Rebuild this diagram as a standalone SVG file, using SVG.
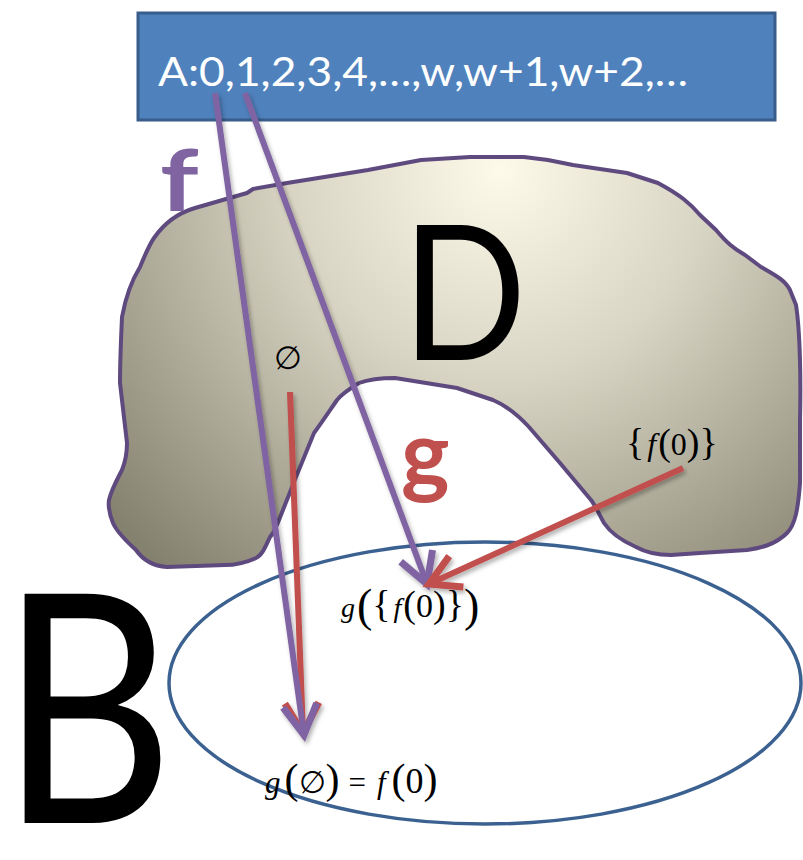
<svg xmlns="http://www.w3.org/2000/svg" width="803" height="860" viewBox="0 0 803 860">
<style>
.sans{font-family:Lato,"Open Sans","Liberation Sans",sans-serif}
.math{font-family:"Liberation Serif","DejaVu Serif",serif;fill:#000}
.it{font-style:italic}
.conn{fill:none;stroke-width:6}
.pur{stroke:#8064a2}
.red{stroke:#c0504d}
</style>
<defs>
<radialGradient id="blobGrad" gradientUnits="userSpaceOnUse" cx="500" cy="170" r="520">
<stop offset="0" stop-color="#fdfae9"/>
<stop offset="0.4" stop-color="#d9d5c4"/>
<stop offset="1" stop-color="#85816f"/>
</radialGradient>
<marker id="arrP" markerUnits="userSpaceOnUse" orient="auto" markerWidth="60" markerHeight="60" refX="0" refY="0" viewBox="-40 -30 60 60" overflow="visible">
<path d="M-30,-17 L0,0 L-30,17" fill="none" stroke="#8064a2" stroke-width="7" stroke-linejoin="miter"/>
</marker>
<marker id="arrR" markerUnits="userSpaceOnUse" orient="auto" markerWidth="60" markerHeight="60" refX="0" refY="0" viewBox="-40 -30 60 60" overflow="visible">
<path d="M-30,-17 L0,0 L-30,17" fill="none" stroke="#c0504d" stroke-width="7" stroke-linejoin="miter"/>
</marker>
<filter id="shadow" x="-20%" y="-20%" width="140%" height="140%">
<feDropShadow dx="2" dy="3" stdDeviation="2" flood-color="#000" flood-opacity="0.3"/>
</filter>
</defs>

<g id="D">
<path d="M154,238 C165,222 178,213 195,208 L247,193 L253,189 L287,183 L368,170 L421,160 L470,157 L524,157 L548,160 L573,165 L627,173 L658,183 C680,195 690,203 700,215 L716,230 C727,243 733,248 745,255 L761,267 C775,275 785,280 790,290 L796,305 C800,330 801,380 800,420 L800,483 C798,510 795,525 787,533 C775,545 760,548 747,550 L700,553 L671,555 C655,555 645,552 636,547 C620,540 610,532 604,523 C598,512 595,505 591,500 L560,463 L529,427 C515,412 505,405 493,400 L457,388 L395,378 C378,378 367,380 359,383 C349,389 342,394 337,400 C326,416 320,425 314,433 L296,477 L279,520 C275,530 272,535 270,537 C265,548 262,555 256,558 C245,563 235,565 225,565 L167,567 C152,566 143,560 136,550 C125,540 117,532 113,523 C109,513 108,507 109,500 C112,488 118,478 122,470 C126,460 127,452 127,443 L120,383 C120,360 121,340 122,317 C126,295 132,280 140,267 C145,255 149,245 154,238 Z" fill="url(#blobGrad)" stroke="#5e4a7e" stroke-width="4" stroke-linejoin="round"/>
<text class="sans" transform="translate(402,360) scale(0.87,1)" x="0" y="0" font-size="188" fill="#000">D</text>
<text class="math" x="274" y="369" font-size="32">∅</text>
<text class="math" x="626" y="455" font-size="32"><tspan font-size="38">{</tspan><tspan class="it" dx="3">f</tspan><tspan font-size="38" dx="2">(</tspan>0<tspan font-size="38">)</tspan><tspan font-size="38">}</tspan></text>
</g>

<g id="B">
<ellipse cx="485" cy="683" rx="316" ry="141" fill="#fff" stroke="#3b6191" stroke-width="3.5"/>
<text class="sans" transform="translate(0,823) scale(0.84,1)" x="0" y="0" font-size="320" fill="#000">B</text>
<text class="math" x="341" y="617" font-size="28"><tspan class="it">g</tspan><tspan font-size="46" dx="2" dy="4">(</tspan><tspan font-size="38" dy="-4">{</tspan><tspan class="it" dx="3">f</tspan><tspan font-size="38" dx="2">(</tspan><tspan font-size="34">0</tspan><tspan font-size="38">)</tspan><tspan font-size="38">}</tspan><tspan font-size="46" dy="4">)</tspan></text>
<text class="math" x="265" y="793" font-size="31"><tspan class="it">g</tspan><tspan font-size="42" dx="4">(</tspan>∅<tspan font-size="42">)</tspan><tspan dx="9">=</tspan><tspan class="it" dx="11">f</tspan><tspan font-size="42" dx="6">(</tspan><tspan font-size="36">0</tspan><tspan font-size="42">)</tspan></text>
</g>

<g id="A">
<rect x="138" y="13" width="637" height="107" fill="#4f81bd" stroke="#385d8a" stroke-width="3"/>
<text class="sans" x="158" y="86" font-size="40" fill="#fff" textLength="530" lengthAdjust="spacingAndGlyphs">A:0,1,2,3,4,…,w,w+1,w+2,…</text>
</g>

<g id="labels">
<text class="sans" transform="translate(160,211) scale(1.25,1)" x="0" y="0" font-size="86" font-weight="bold" fill="#8064a2">f</text>
<text class="sans" x="401" y="486" font-size="92" font-weight="bold" fill="#c0504d">g</text>
</g>

<g id="connectors" filter="url(#shadow)">
<line class="conn red" x1="290" y1="392" x2="303" y2="733" marker-end="url(#arrR)"/>
<line class="conn pur" x1="215" y1="93" x2="304" y2="735" marker-end="url(#arrP)"/>
<line class="conn pur" x1="245" y1="93" x2="427" y2="584" marker-end="url(#arrP)"/>
<line class="conn red" x1="683" y1="468" x2="429" y2="584" marker-end="url(#arrR)"/>
</g>
</svg>
